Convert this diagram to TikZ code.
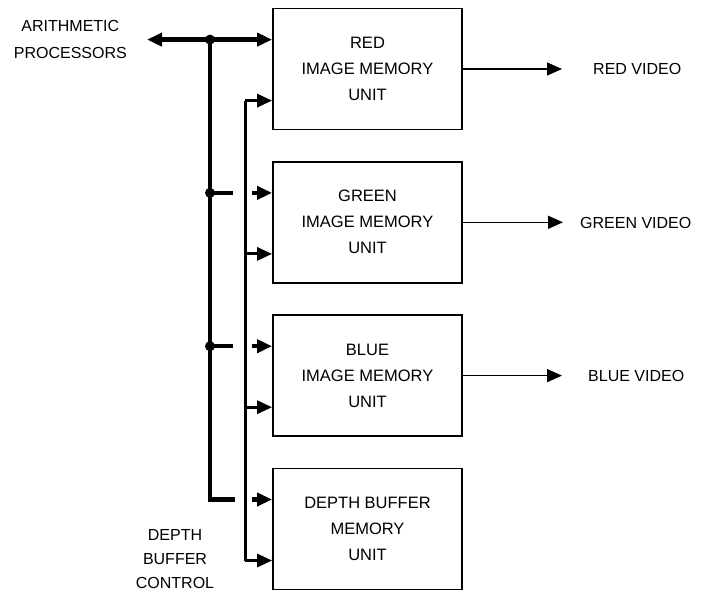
\documentclass[tikz,border=0pt]{standalone}
\usepackage{fontspec}
\setmainfont{Liberation Sans}
\usetikzlibrary{arrows.meta,positioning,calc}
\tikzset{
  unit/.style={draw, line width=1.8pt, minimum width=189pt, minimum height=121pt,
               inner sep=0pt, align=center, font=\fontsize{16.5}{26}\selectfont},
  lbl/.style={align=center, inner sep=0pt, font=\fontsize{16}{27}\selectfont},
  bus/.style={line width=4.5pt, line join=miter},
  ctl/.style={line width=3pt},
  vid/.style={line width=1.5pt, -{Triangle[length=15pt,width=13pt]}},
  tip/.style={-{Triangle[length=15pt,width=13pt]}},
  dbl/.style={{Triangle[length=15pt,width=13pt]}-{Triangle[length=15pt,width=13pt]}},
}
\begin{document}
\begin{tikzpicture}[x=1pt, y=-1pt, node distance=30.5pt]
\useasboundingbox (0,0) rectangle (701,594);

% ---- memory units --------------------------------------------------
\node[unit] (red) at (367.5,69) {RED\\IMAGE MEMORY\\UNIT};
\node[unit, below=of red]   (green) {GREEN\\IMAGE MEMORY\\UNIT};
\node[unit, below=of green] (blue)  {BLUE\\IMAGE MEMORY\\UNIT};
\node[unit, below=of blue]  (depth) {DEPTH BUFFER\\MEMORY\\UNIT};

% ---- labels --------------------------------------------------------
\node[lbl, anchor=east] (ap) at (127,39) {ARITHMETIC\\PROCESSORS};
\node[lbl, font=\fontsize{16}{24}\selectfont] (dbc) at (175,559) {DEPTH\\BUFFER\\CONTROL};
\node[lbl, anchor=west] (rv) at (593,69)  {RED VIDEO};
\node[lbl, anchor=west] (gv) at (580,223) {GREEN VIDEO};
\node[lbl, anchor=west] (bv) at (588,376) {BLUE VIDEO};

% ---- input points on each unit ------------------------------------
\foreach \m/\n in {red/r,green/g,blue/b,depth/d} {
  \coordinate (\n1) at ($(\m.north west)+(0,32)$);
  \coordinate (\n2) at ($(\m.north west)+(0,93)$);
}
\coordinate (busx) at (210,0);
\coordinate (ctlx) at (245,0);

% ---- data bus ------------------------------------------------------
\draw[bus, dbl, shorten <=20pt] (ap.east |- r1) -- (r1);
\draw[bus] (busx |- r1) -- (busx |- d1) -- ++(25,0);
\foreach \n in {g,b} {
  \draw[bus] (busx |- \n1) -- ++(23,0);
  \fill (busx |- \n1) circle (5pt);
}
\fill (busx |- r1) circle (5pt);
\foreach \n in {g,b,d} \draw[bus, tip] ($(\n1)+(-20,0)$) -- (\n1);

% ---- depth buffer control -----------------------------------------
\draw[ctl] (ctlx |- r2) -- (ctlx |- d2);
\foreach \n in {r,g,b,d} \draw[ctl, tip] (ctlx |- \n2) -- (\n2);

% ---- video outputs -------------------------------------------------
\draw[vid, shorten >=31pt] (red.east) -- (red -| rv.west);
\draw[vid, shorten >=17pt] (green.east) -- (green -| gv.west);
\draw[vid, shorten >=26pt] (blue.east) -- (blue -| bv.west);
\end{tikzpicture}
\end{document}
